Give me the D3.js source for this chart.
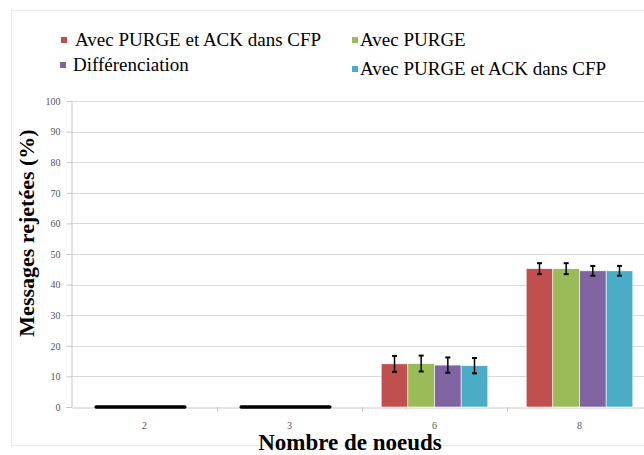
<!DOCTYPE html>
<html><head><meta charset="utf-8">
<script src="https://cdn.jsdelivr.net/npm/d3@7"></script>
<style>body{margin:0;background:#fff;}svg{display:block;} text{font-family:"Liberation Serif","Times New Roman",serif;}</style>
</head><body>
<script>
const categories = ["2", "3", "6", "8"];
const seriesNames = ["Avec PURGE et ACK dans CFP", "Avec PURGE", "Différenciation", "Avec PURGE et ACK dans CFP"];
const seriesColors = ["#c0504d", "#9bbb59", "#8064a2", "#4bacc6"];
const s1 = [0, 0, 14.1, 45.2];
const s2 = [0, 0, 14.2, 45.2];
const s3 = [0, 0, 13.7, 44.5];
const s4 = [0, 0, 13.5, 44.5];
const err1 = [0, 0, 2.6, 1.8];
const err2 = [0, 0, 2.6, 1.8];
const err3 = [0, 0, 2.5, 1.6];
const err4 = [0, 0, 2.5, 1.6];
const yTicks = [0, 10, 20, 30, 40, 50, 60, 70, 80, 90, 100];

const values = [s1, s2, s3, s4];
const errs = [err1, err2, err3, err4];

const W = 644, H = 455;
const svg = d3.select("body").append("svg").attr("width", W).attr("height", H);

svg.append("rect").attr("x", 11.5).attr("y", 10.5).attr("width", 700).attr("height", 435)
  .attr("fill", "none").attr("stroke", "#ececec");

const x = d3.scaleBand().domain(categories).range([72, 652]).paddingInner(0).paddingOuter(0);
const x1 = d3.scaleBand().domain(d3.range(4)).range([0, x.bandwidth()]).paddingOuter(0.72).paddingInner(0);
const y = d3.scaleLinear().domain([0, 100]).range([407, 101]);

svg.append("g").selectAll("line").data(yTicks.filter(d => d > 0)).join("line")
  .attr("x1", 71).attr("x2", W).attr("y1", d => Math.round(y(d)) + 0.5).attr("y2", d => Math.round(y(d)) + 0.5)
  .attr("stroke", "#d9d9d9").attr("stroke-width", 1.2);

const yAxis = svg.append("g").attr("transform", "translate(71.5,0)")
  .call(d3.axisLeft(y).tickValues(yTicks).tickSize(5).tickPadding(6));
yAxis.select(".domain").attr("stroke", "#c8c8c8");
yAxis.selectAll(".tick line").attr("stroke", "#c8c8c8");
yAxis.selectAll("text").attr("font-size", 10).attr("fill", "#555");

const xAxis = svg.append("g").attr("transform", "translate(0," + (y(0) + 0.5) + ")")
  .call(d3.axisBottom(x).tickSize(0).tickPadding(14));
xAxis.select(".domain").attr("stroke", "#c8c8c8");
xAxis.selectAll("text").attr("font-size", 10).attr("fill", "#555");
svg.append("g").selectAll("line").data(categories.slice(1)).join("line")
  .attr("x1", d => x(d) + 0.5).attr("x2", d => x(d) + 0.5)
  .attr("y1", y(0)).attr("y2", y(0) + 5).attr("stroke", "#c8c8c8");

const g = svg.append("g");
categories.forEach((c, ci) => {
  const gx = x(c);
  values.forEach((vals, si) => {
    const v = vals[ci];
    if (v > 0) {
      g.append("rect").attr("x", gx + x1(si)).attr("y", y(v))
        .attr("width", x1.bandwidth()).attr("height", y(0) - y(v))
        .attr("fill", seriesColors[si]).attr("stroke", "#fff").attr("stroke-width", 0.6);
      const e = errs[si][ci];
      const cx = gx + x1(si) + x1.bandwidth() / 2;
      g.append("line").attr("x1", cx).attr("x2", cx).attr("y1", y(v + e)).attr("y2", y(v - e))
        .attr("stroke", "#000").attr("stroke-width", 1.5);
      [v + e, v - e].forEach(t => g.append("line").attr("x1", cx - 2.5).attr("x2", cx + 2.5)
        .attr("y1", y(t)).attr("y2", y(t)).attr("stroke", "#000").attr("stroke-width", 2));
    }
  });
  const allZero = values.every(vals => vals[ci] === 0);
  if (allZero) {
    g.append("line").attr("x1", gx + x1(0) + 5).attr("x2", gx + x1(3) + x1.bandwidth() - 13)
      .attr("y1", y(0)).attr("y2", y(0)).attr("stroke", "#000").attr("stroke-width", 3.5)
      .attr("stroke-linecap", "round");
  }
});

// legend: [square x, square top y, text x, text baseline y]
const legendPos = [[61, 37, 75, 46], [352, 37, 360, 46], [60, 62, 73, 71], [352, 66, 360, 75]];
seriesNames.forEach((n, i) => {
  const [lx, ly, tx, by] = legendPos[i];
  svg.append("rect").attr("x", lx).attr("y", ly).attr("width", 6).attr("height", 6).attr("fill", seriesColors[i]);
  svg.append("text").attr("x", tx).attr("y", by).text(n)
    .attr("font-size", 19).attr("fill", "#000");
});

svg.append("text").attr("transform", "translate(34,233) rotate(-90)").attr("text-anchor", "middle")
  .attr("font-weight", "bold").attr("font-size", 22)
  .text("Messages rejetées (%)");
svg.append("text").attr("x", 350).attr("y", 450).attr("text-anchor", "middle")
  .attr("font-weight", "bold").attr("font-size", 23)
  .text("Nombre de noeuds");
</script>
</body></html>
